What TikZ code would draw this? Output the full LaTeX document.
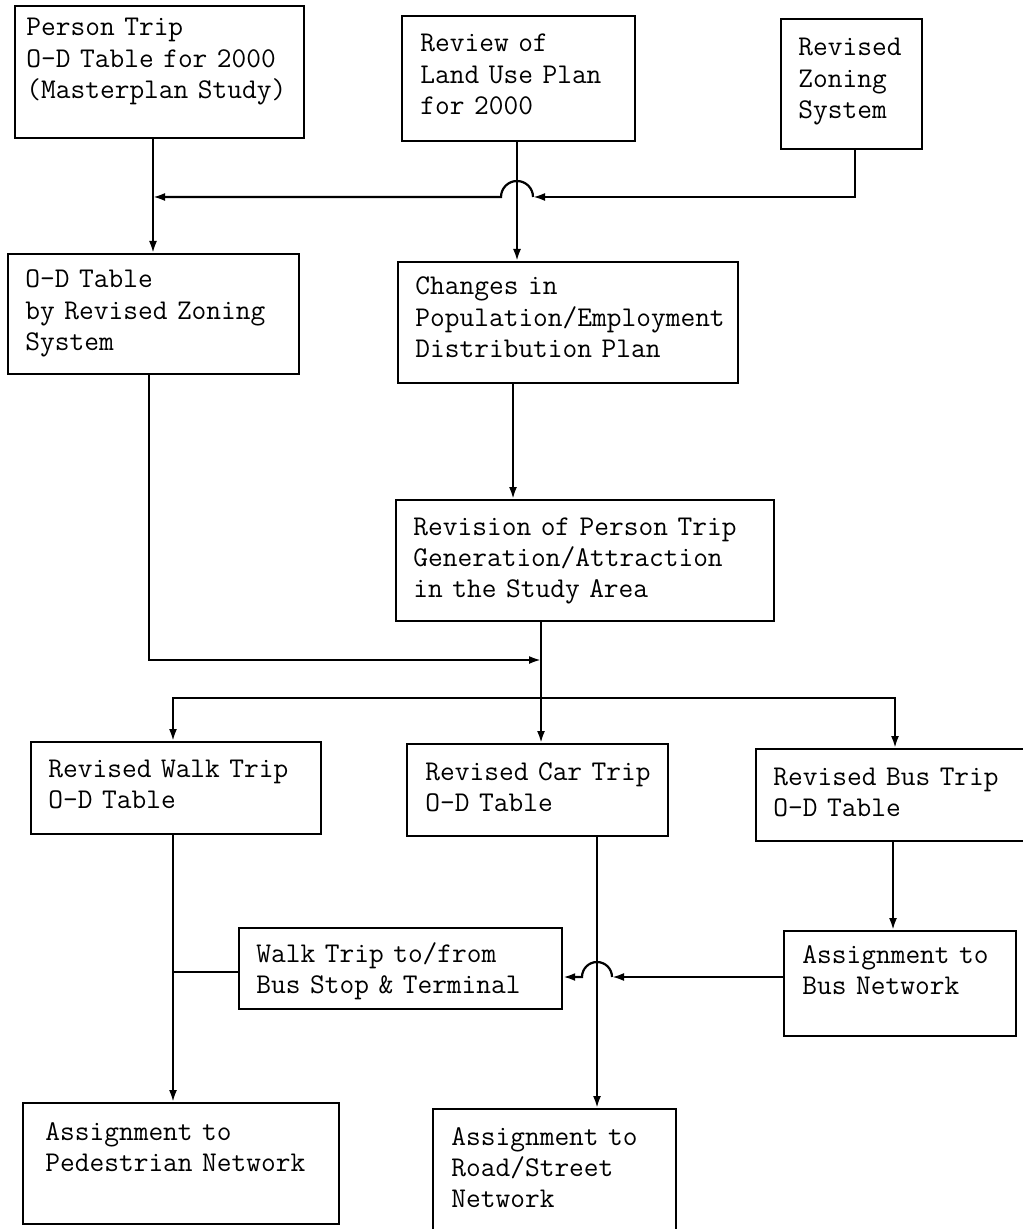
\documentclass[tikz,border=0pt]{standalone}
\usepackage{fontspec}
\usetikzlibrary{arrows.meta}
\begin{document}
\begin{tikzpicture}[x=0.5pt,y=-0.5pt,
  box/.style={draw, line width=1.1pt, inner sep=0pt, anchor=north west},
  txt/.style={anchor=base west, inner sep=0pt, align=left, text width=200pt,
    font=\fontsize{14.3}{15.6}\selectfont\ttfamily\addfontfeatures{FakeBold=0.5}},
  conn/.style={line width=1.1pt},
  arr/.style={conn, -{Latex[length=6pt,width=4pt]}}]
\useasboundingbox (0,0) rectangle (1022,1229);
\newcommand\mkbox[5]{\node[box, minimum width={(#4-#2)*0.5pt}, minimum height={(#5-#3)*0.5pt}] (#1) at (#2,#3) {};}

% boxes
\mkbox{b1}{14}{5}{303}{137}
\node[txt] (t1) at (26,36) {Person Trip\\O-D Table for 2000\\(Masterplan Study)};
\mkbox{b2}{401}{15}{634}{140}
\node[txt] (t2) at (420,52) {Review of\\Land Use Plan\\for 2000};
\mkbox{b3}{780}{18}{921}{148}
\node[txt] (t3) at (798,56) {Revised\\Zoning\\System};
\mkbox{b4}{7}{253}{298}{373}
\node[txt] (t4) at (25,288) {O–D Table\\by Revised Zoning\\System};
\mkbox{b5}{397}{261}{737}{382}
\node[txt] (t5) at (415,295) {Changes in\\Population/Employment\\Distribution Plan};
\mkbox{b6}{395}{499}{773}{620}
\node[txt] (t6) at (413,535) {Revision of Person Trip\\Generation/Attraction\\in the Study Area};
\mkbox{b7}{30}{741}{320}{833}
\node[txt] (t7) at (48,777) {Revised Walk Trip\\O–D Table};
\mkbox{b8}{406}{743}{667}{835}
\node[txt] (t8) at (425,780) {Revised Car Trip\\O–D Table};
\mkbox{b9}{755}{748}{1040}{840}
\node[txt] (t9) at (773,785) {Revised Bus Trip\\O–D Table};
\mkbox{b10}{783}{930}{1015}{1035}
\node[txt] (t10) at (802,963) {Assignment to\\Bus Network};
\mkbox{b11}{238}{927}{561}{1008}
\node[txt] (t11) at (256,962) {Walk Trip to/from\\Bus Stop \& Terminal};
\mkbox{b12}{22}{1102}{338}{1223}
\node[txt] (t12) at (45,1140) {Assignment to\\Pedestrian Network};
\mkbox{b13}{432}{1108}{675}{1245}
\node[txt] (t13) at (451,1145) {Assignment to\\Road/Street\\Network};

% junction coordinates
\coordinate (jtl) at (153,197);
\coordinate (hopR) at (533,197);
\coordinate (jm) at (541,660);
\coordinate (jd) at (541,698);
\coordinate (hop2R) at (612,977);

% top part
\draw[arr] (153,0 |- b1.south) -- (153,0 |- b4.north);
\draw[arr] (517,0 |- b2.south) -- (517,0 |- b5.north);
\draw[arr] (855,0 |- b3.south) |- (hopR);
\draw[arr] (hopR) arc[start angle=0, end angle=180, radius=8pt] -- (jtl);

% middle
\draw[arr] (513,0 |- b5.south) -- (513,0 |- b6.north);
\draw[arr] (149,0 |- b4.south) |- (jm);
\draw[arr] (541,0 |- b6.south) -- (541,0 |- b8.north);
\draw[arr] (jd) -| (173,0 |- b7.north);
\draw[arr] (jd) -| (895,0 |- b9.north);

% bottom
\draw[arr] (173,0 |- b7.south) -- (173,0 |- b12.north);
\draw[conn] (b11.west |- 0,972) -- (173,972);
\draw[arr] (597,0 |- b8.south) -- (597,0 |- b13.north);
\draw[arr] (893,0 |- b9.south) -- (893,0 |- b10.north);
\draw[arr] (b10.west |- 0,977) -- (hop2R);
\draw[arr] (hop2R) arc[start angle=0, end angle=180, radius=7.5pt] -- (b11.east |- 0,977);
\end{tikzpicture}
\end{document}
